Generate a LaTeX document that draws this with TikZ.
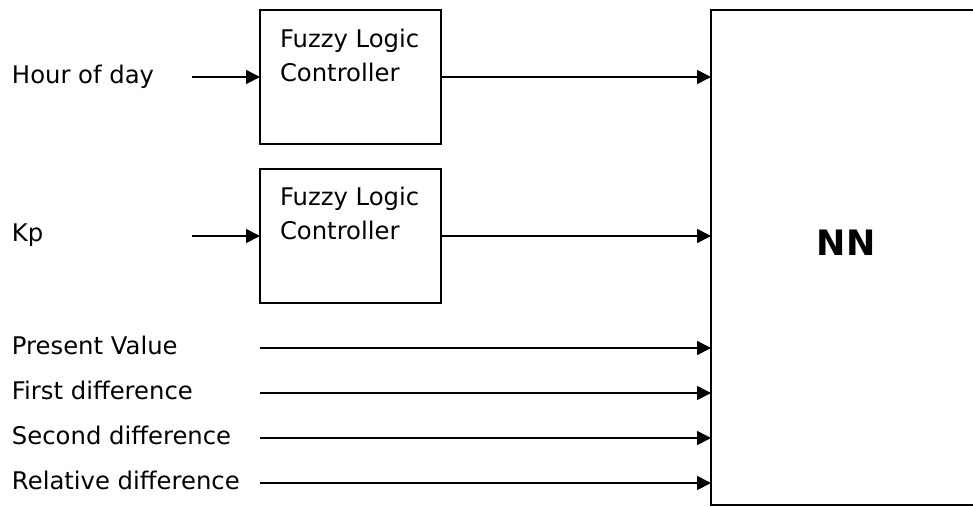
\documentclass[tikz,border=0pt]{standalone}
\usepackage{fontspec}
\setmainfont{DejaVu Sans}
\usetikzlibrary{arrows.meta}
\begin{document}
\begin{tikzpicture}[x=1pt,y=-1pt,
  every node/.style={inner sep=0pt, outer sep=0pt},
  lbl/.style={font=\fontsize{24.3}{29}\selectfont, anchor=base west},
  flcbox/.style={draw, line width=1.6pt, minimum width=181pt, minimum height=134pt},
  nnbox/.style={draw, line width=1.6pt, anchor=north west, minimum width=300pt, minimum height=495pt},
  arr/.style={line width=1.6pt, -{Triangle[length=14pt,width=14pt]}}]
\useasboundingbox (0,0) rectangle (973,506);
\clip (0,0) rectangle (973,506);

% neural network block (runs off the right edge)
\node[nnbox] (nn) at (711,10) {};
\node[font=\fontsize{35}{40}\selectfont\bfseries] (nnt) at (846,243) {NN};

% fuzzy logic controllers
\node[flcbox] (flc1) at (350.5,77) {};
\node[lbl] (flc1a) at (280,47) {Fuzzy Logic};
\node[lbl] (flc1b) at (280,81) {Controller};
\node[flcbox] (flc2) at (350.5,236) {};
\node[lbl] (flc2a) at (280,205) {Fuzzy Logic};
\node[lbl] (flc2b) at (280,239) {Controller};

% input labels
\node[lbl] (hod) at (12,83) {Hour of day};
\node[lbl] (kp) at (12,241) {Kp};
\node[lbl] (pv) at (12,354) {Present Value};
\node[lbl] (fd) at (12,399) {First difference};
\node[lbl] (sd) at (12,444) {Second difference};
\node[lbl] (rd) at (12,489) {Relative difference};

% line starts
\coordinate (hod0) at (192,77);
\coordinate (kp0) at (192,236);
\coordinate (pv0) at (260,348);
\coordinate (fd0) at (260,393);
\coordinate (sd0) at (260,438);
\coordinate (rd0) at (260,483);

% connectors
\draw[arr] (hod0) -- (flc1.west);
\draw[arr] (kp0) -- (flc2.west);
\draw[arr] (flc1.east) -- (flc1.east -| nn.west);
\draw[arr] (flc2.east) -- (flc2.east -| nn.west);
\draw[arr] (pv0) -- (pv0 -| nn.west);
\draw[arr] (fd0) -- (fd0 -| nn.west);
\draw[arr] (sd0) -- (sd0 -| nn.west);
\draw[arr] (rd0) -- (rd0 -| nn.west);
\end{tikzpicture}
\end{document}
